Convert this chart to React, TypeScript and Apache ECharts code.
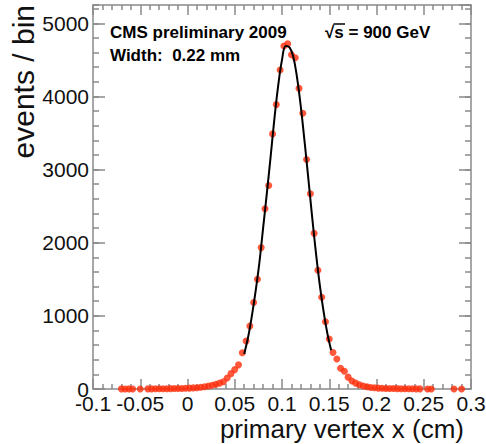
import React, { useEffect, useRef } from "react";
import * as echarts from "echarts";

// Histogram bin centres (cm) of non-empty bins and their contents
const binX = [
  -0.070, -0.066, -0.062, -0.058, -0.050,
  -0.042, -0.038, -0.034, -0.030, -0.026, -0.022, -0.018, -0.014, -0.010, -0.006, -0.002,
  0.002, 0.006, 0.010, 0.014, 0.018, 0.022, 0.026, 0.030, 0.034, 0.038,
  0.042, 0.046, 0.050, 0.054, 0.058, 0.062, 0.066, 0.070, 0.074, 0.078,
  0.082, 0.086, 0.090, 0.094, 0.098, 0.102, 0.106, 0.110, 0.114, 0.118,
  0.122, 0.126, 0.130, 0.134, 0.138, 0.142, 0.146, 0.150, 0.154, 0.158,
  0.162, 0.166, 0.170, 0.174, 0.178, 0.182, 0.186, 0.190, 0.194, 0.198,
  0.202, 0.206, 0.210, 0.214, 0.218, 0.222, 0.226, 0.230, 0.234, 0.238,
  0.242, 0.246, 0.254, 0.258, 0.282, 0.290,
];
const counts = [
  2, 1, 2, 1, 1,
  2, 2, 3, 3, 4, 4, 5, 6, 7, 8, 10,
  12, 15, 18, 24, 30, 40, 50, 65, 80, 100,
  150, 210, 265, 330, 495, 655, 860, 1183, 1500, 1933,
  2465, 2783, 3488, 3888, 4362, 4690, 4720, 4570, 4530, 4110,
  3770, 3138, 2670, 2128, 1623, 1255, 920, 684, 500, 409,
  284, 243, 162, 110, 80, 58, 40, 30, 21, 16,
  12, 10, 8, 7, 6, 5, 4, 4, 3, 3,
  2, 2, 1, 1, 1, 1,
];

// Gaussian fit curve
const fitX = [
  0.060, 0.064, 0.068, 0.072, 0.076, 0.080, 0.084, 0.088, 0.092, 0.096, 0.100, 0.104,
  0.108, 0.112, 0.116, 0.120, 0.124, 0.128, 0.132, 0.136, 0.140, 0.144, 0.148, 0.152,
];
const fitY = [
  480, 700, 990, 1330, 1720, 2200, 2680, 3180, 3700, 4150, 4500, 4690,
  4670, 4540, 4250, 3850, 3370, 2860, 2340, 1850, 1420, 1060, 760, 530,
];

const xTickLabels = ["-0.1", "-0.05", "0", "0.05", "0.1", "0.15", "0.2", "0.25", "0.3"];
const yTickLabels = ["0", "1000", "2000", "3000", "4000", "5000"];

const FONT = '"Liberation Sans", Arial, Helvetica, sans-serif';
const AXIS_COLOR = "#8a8a8a";

export default function App() {
  const ref = useRef<HTMLDivElement>(null);

  useEffect(() => {
    document.body.style.margin = "0";
    if (!ref.current) return;
    const chart = echarts.init(ref.current, undefined, { renderer: "svg" });

    const lineStyle = { color: AXIS_COLOR, width: 1.5 };
    const xBase = (pos: "bottom" | "top", labels: boolean) => ({
      type: "value",
      position: pos,
      min: -0.1,
      max: 0.3,
      interval: 0.05,
      axisLine: { show: true, onZero: false, lineStyle },
      axisTick: { show: true, inside: true, length: 10, lineStyle },
      minorTick: { show: true, splitNumber: 5, length: 5, lineStyle },
      splitLine: { show: false },
      axisLabel: labels
        ? {
            show: true,
            fontSize: 21,
            fontFamily: FONT,
            color: "#111",
            margin: 7,
            lineHeight: 15,
            formatter: (v: number) => {
              const s = String(Math.round(v * 100) / 100);
              return xTickLabels.includes(s) ? s : "";
            },
          }
        : { show: false },
    });
    const yBase = (pos: "left" | "right", major: boolean, labels: boolean) => ({
      type: "value",
      position: pos,
      min: 0,
      max: 5250,
      interval: major ? 1000 : 200,
      axisLine: { show: major, onZero: false, lineStyle },
      axisTick: { show: true, inside: true, length: major ? 12 : 6, lineStyle },
      splitLine: { show: false },
      axisLabel: labels
        ? {
            show: true,
            fontSize: 21,
            fontFamily: FONT,
            color: "#111",
            margin: 4,
            lineHeight: 14,
            showMaxLabel: false,
            formatter: (v: number) => {
              const s = String(Math.round(v));
              return yTickLabels.includes(s) ? s : "";
            },
          }
        : { show: false },
    });

    chart.setOption({
      animation: false,
      backgroundColor: "#ffffff",
      grid: {
        left: 93,
        right: 15,
        top: 5,
        bottom: 55,
        containLabel: false,
        outerBoundsMode: "none",
      },
      xAxis: [xBase("bottom", true), xBase("top", false)],
      yAxis: [
        yBase("left", true, true),
        yBase("left", false, false),
        yBase("right", true, false),
        yBase("right", false, false),
      ],
      series: [
        {
          type: "scatter",
          xAxisIndex: 0,
          yAxisIndex: 0,
          data: binX.map((x, i) => [x, counts[i]]),
          symbol: "circle",
          symbolSize: 7,
          itemStyle: { color: "#ff2d0a" },
          silent: true,
        },
        {
          type: "line",
          xAxisIndex: 0,
          yAxisIndex: 0,
          data: fitX.map((x, i) => [x, fitY[i]]),
          smooth: 0.4,
          showSymbol: false,
          symbol: "none",
          lineStyle: { color: "#000", width: 2 },
          silent: true,
          z: 5,
        },
      ],
      graphic: [
        {
          type: "text",
          x: 110,
          y: 32,
          style: {
            text: "CMS preliminary 2009",
            font: `bold 17px ${FONT}`,
            fill: "#000",
            textVerticalAlign: "middle",
          },
        },
        {
          type: "text",
          x: 110,
          y: 55,
          style: {
            text: "Width:\u00a0 0.22 mm",
            font: `bold 17px ${FONT}`,
            fill: "#000",
            textVerticalAlign: "middle",
          },
        },
        {
          type: "text",
          x: 325,
          y: 32,
          style: {
            text: "\u221As = 900 GeV",
            font: `bold 17px ${FONT}`,
            fill: "#000",
            textVerticalAlign: "middle",
          },
        },
        {
          type: "line",
          shape: { x1: 333.5, y1: 24, x2: 345, y2: 24 },
          style: { stroke: "#000", lineWidth: 1.5 },
        },
        {
          type: "text",
          x: 23,
          y: 5,
          rotation: Math.PI / 2,
          style: {
            text: "events / bin",
            font: `30px ${FONT}`,
            fill: "#111",
            textAlign: "right",
            textVerticalAlign: "middle",
          },
        },
        {
          type: "text",
          x: 464,
          y: 429,
          style: {
            text: "primary vertex x (cm)",
            font: `26px ${FONT}`,
            fill: "#111",
            textAlign: "right",
            textVerticalAlign: "middle",
          },
        },
      ],
    });

    return () => chart.dispose();
  }, []);

  return <div ref={ref} style={{ width: 486, height: 444 }} />;
}
